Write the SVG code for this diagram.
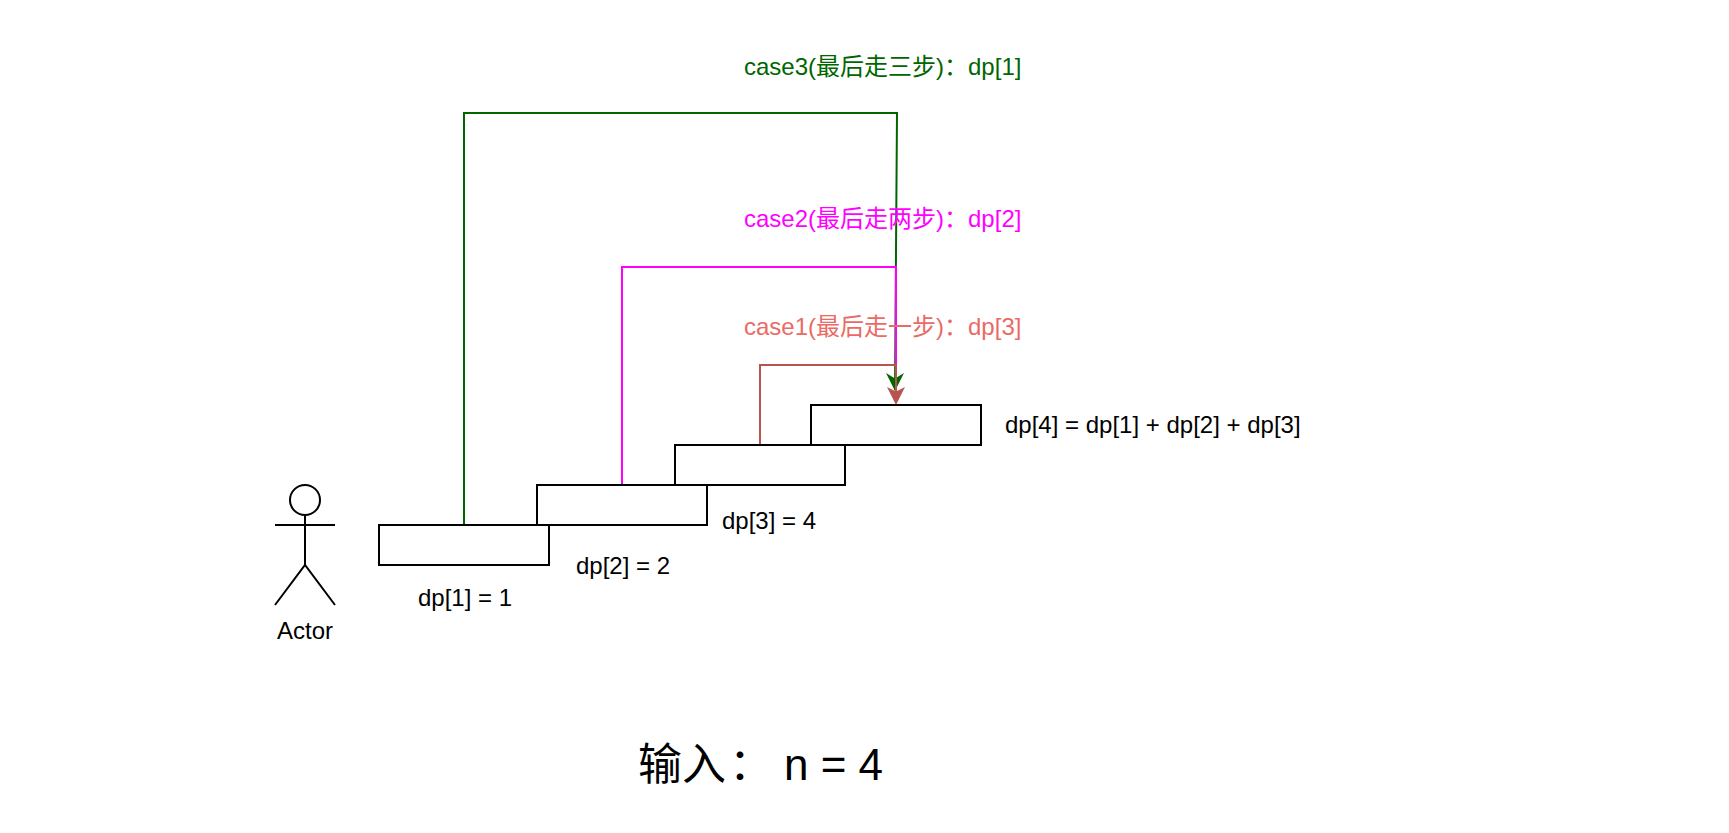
<svg xmlns="http://www.w3.org/2000/svg" width="1729" height="833" viewBox="0 0 1729 833">
<style>
text{font-family:"Liberation Sans","Noto Sans CJK SC",sans-serif;font-size:24px;fill:#000}
.m{text-anchor:middle}
.box{fill:#fff;stroke:#000;stroke-width:2}
.ln{fill:none;stroke-width:2}
.ac{fill:none;stroke:#000;stroke-width:2}
</style>
<g id="connectors">
<path class="ln" stroke="#006600" d="M464 525V113H897L895 390"/>
<path class="ln" stroke="#FF00FF" d="M622 485V267H896V385"/>
<path d="M886 373L895 378.500L904 373L895 391Z" fill="#006600"/>
<path class="ln" stroke="#B85450" d="M760 445V365H896V400"/>
<path d="M887 387L896 391.500L905 387L896 405Z" fill="#B85450"/>
</g>
<g id="step1"><rect class="box" x="379" y="525" width="170" height="40"/></g>
<g id="step2"><rect class="box" x="537" y="485" width="170" height="40"/></g>
<g id="step3"><rect class="box" x="675" y="445" width="170" height="40"/></g>
<g id="step4"><rect class="box" x="811" y="405" width="170" height="40"/></g>
<g id="actor">
<circle class="ac" cx="305" cy="500" r="15"/>
<path class="ac" d="M305 515V565M275 525H335M275 605L305 565L335 605"/>
<text class="m" x="305" y="639">Actor</text>
</g>
<g id="label-dp1"><text class="m" x="465" y="606">dp[1] = 1</text></g>
<g id="label-dp2"><text class="m" x="623" y="574">dp[2] = 2</text></g>
<g id="label-dp3"><text class="m" x="769" y="529">dp[3] = 4</text></g>
<g id="label-dp4"><text x="1005" y="433">dp[4] = dp[1] + dp[2] + dp[3]</text></g>
<g id="label-case3"><text x="744" y="75" style="fill:#006600">case3(最后走三步)：dp[1]</text></g>
<g id="label-case2"><text x="744" y="227" style="fill:#FF00FF">case2(最后走两步)：dp[2]</text></g>
<g id="label-case1"><text x="744" y="335" style="fill:#EA6B66">case1(最后走一步)：dp[3]</text></g>
<g id="title"><text x="638" y="780" style="font-size:44px"><tspan>输入</tspan><tspan dx="3">：</tspan><tspan x="784">n = 4</tspan></text></g>
</svg>
